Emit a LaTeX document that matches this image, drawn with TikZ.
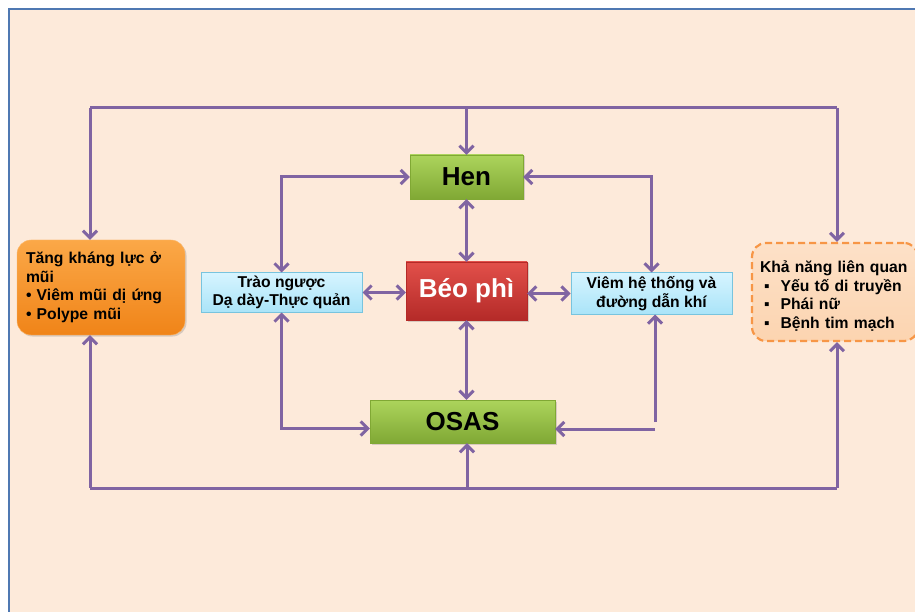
\documentclass[tikz,border=0pt]{standalone}
\usepackage{fontspec}
\setmainfont{Liberation Sans}
\usetikzlibrary{arrows.meta,shadows}

\definecolor{peach}{RGB}{253,234,218}
\definecolor{frameblue}{RGB}{79,120,178}
\definecolor{purp}{RGB}{128,100,162}
\definecolor{greentop}{RGB}{172,212,92}
\definecolor{greenbot}{RGB}{128,168,52}
\definecolor{redtop}{RGB}{226,80,74}
\definecolor{redbot}{RGB}{180,42,40}
\definecolor{bluetop}{RGB}{214,244,255}
\definecolor{bluebot}{RGB}{170,228,248}
\definecolor{blueline}{RGB}{120,196,222}
\definecolor{orangetop}{RGB}{251,168,72}
\definecolor{orangebot}{RGB}{240,132,24}
\definecolor{dashfill}{RGB}{252,212,176}
\definecolor{dashline}{RGB}{247,150,70}

\begin{document}
\begin{tikzpicture}[x=1pt,y=-1pt]
% Box styles
\tikzset{
    bigtext/.style={font=\fontsize{26}{30}\selectfont\bfseries},
    smalltext/.style={font=\fontsize{15.7}{18.5}\selectfont\bfseries},
    boxshadow/.style={drop shadow={shadow xshift=1.5pt,shadow yshift=-1.5pt,opacity=0.3}},
    greenbox/.style={bigtext,boxshadow,top color=greentop,bottom color=greenbot,draw=greenbot,inner sep=0pt},
    redbox/.style={bigtext,boxshadow,top color=redtop,bottom color=redbot,draw=redbot,text=white,inner sep=0pt},
    bluebox/.style={smalltext,top color=bluetop,bottom color=bluebot,draw=blueline,line width=1pt,align=center,inner sep=0pt},
    orangebox/.style={smalltext,boxshadow,top color=orangetop,bottom color=orangebot,draw=orangetop!80!white,rounded corners=14pt,align=left,inner sep=0pt},
    dashbox/.style={top color=dashfill!70!white,bottom color=dashfill,draw=dashline,dash pattern=on 7pt off 4pt,line width=2.2pt,rounded corners=14pt,inner sep=0pt},
    conn/.style={draw=purp,line width=3pt,>={Straight Barb[length=7pt,width=14pt]}}
}
\useasboundingbox (0,0) rectangle (915,612);
\clip (0,0) rectangle (915,612);
% Background
\fill[white] (0,0) rectangle (915,612);
\draw[fill=peach,draw=frameblue,line width=2pt] (9,9) rectangle (940,640);
% Boxes
\node[greenbox,minimum width=113,minimum height=44] (Hen) at (466.5,177) {Hen};
\node[redbox,minimum width=121,minimum height=58] (Beo) at (466.5,291) {Béo phì};
\node[greenbox,minimum width=185,minimum height=43] (Osas) at (462.5,421.5) {OSAS};
\node[bluebox,minimum width=161,minimum height=39] (Trao) at (281.5,292.5) {Trào ngược\\Dạ dày-Thực quản};
\node[bluebox,minimum width=161,minimum height=41] (Viem) at (651.5,293.5) {Viêm hệ thống và\\đường dẫn khí};
\node[orangebox,minimum width=168,minimum height=95,text width=150] (Mui) at (101,287.5)
    {Tăng kháng lực ở\\mũi\\• Viêm mũi dị ứng\\• Polype mũi};
\node[dashbox,minimum width=166,minimum height=98] (Kha) at (835,292) {};
\node[smalltext,align=left,text width=150,inner sep=0pt] (KhaText) at ([yshift=-4pt]Kha.center)
    {Khả năng liên quan\\\hspace*{4pt}▪\hspace{11pt}Yếu tố di truyền\\\hspace*{4pt}▪\hspace{11pt}Phái nữ\\\hspace*{4pt}▪\hspace{11pt}Bệnh tim mạch};
% Outer loop
\coordinate (tl) at (90,108);
\coordinate (tr) at (837,108);
\coordinate (bl) at (90,488);
\coordinate (br) at (837,488);
\coordinate (bm) at (467,488);
\draw[conn] (tl) -- (tr);
\draw[conn,->] (tl) -- (tl |- Mui.north);
\draw[conn,->] (tr) -- (tr |- Kha.north);
\draw[conn,->] (Hen.north |- tl) -- (Hen.north);
\draw[conn] (bl) -- (br);
\draw[conn,->] (bl) -- (bl |- Mui.south);
\draw[conn,->] (br) -- (br |- Kha.south);
\draw[conn,->] (bm) -- (bm |- Osas.south);
% Inner links
\draw[conn,<->] (Hen.south) -- (Beo.north);
\draw[conn,<->] (Beo.south) -- (Beo.south |- Osas.north);
\draw[conn,<->] (Trao.east) -- (Trao.east -| Beo.west);
\draw[conn,<->] (Beo.east |- Viem.west) -- (Viem.west);
\draw[conn,<->] (Hen.west) -| (Trao.north);
\draw[conn,<->] (Hen.east) -| (Viem.north);
\draw[conn,<->] ([yshift=-7pt]Osas.west) -| (Trao.south);
\coordinate (vr) at (655,422);
\coordinate (vb) at (655,429);
\draw[conn,->] (vr) -- (vr |- Viem.south);
\draw[conn,->] (vb) -- (vb -| Osas.east);
\end{tikzpicture}
\end{document}
